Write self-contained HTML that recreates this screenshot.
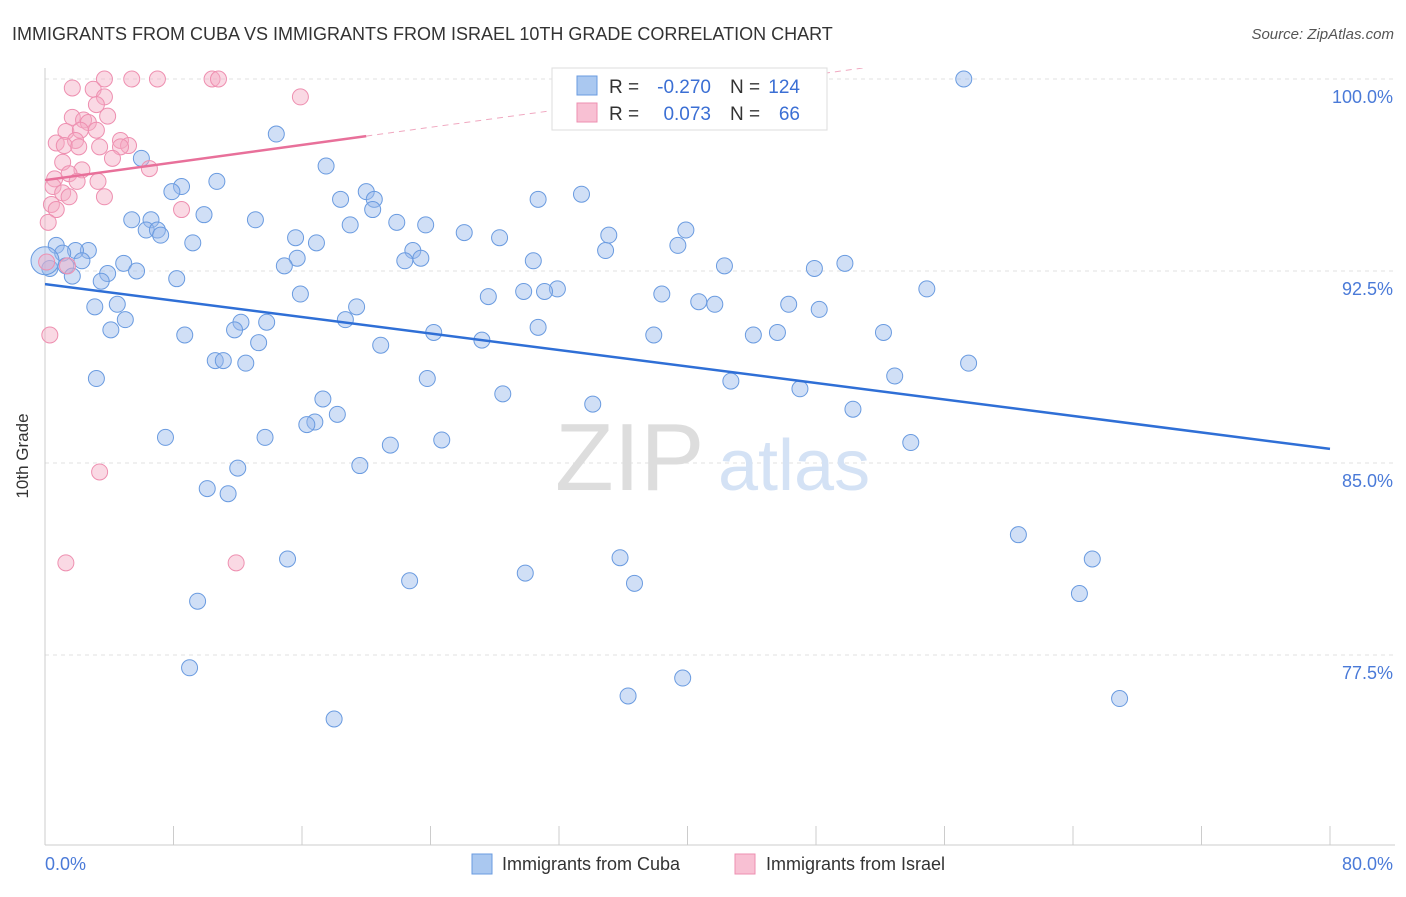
<!DOCTYPE html>
<html><head><meta charset="utf-8"><style>
body{margin:0;background:#fff;font-family:"Liberation Sans",sans-serif;}
svg text{font-family:"Liberation Sans",sans-serif;}
</style></head><body>
<svg id="chart" width="1406" height="892" viewBox="0 0 1406 892">
<defs><clipPath id="plotclip"><rect x="45" y="68" width="1350" height="777"/></clipPath></defs>
<text x="12" y="40" font-size="18" fill="#333">IMMIGRANTS FROM CUBA VS IMMIGRANTS FROM ISRAEL 10TH GRADE CORRELATION CHART</text>
<text x="1394" y="39" font-size="15" fill="#555" font-style="italic" text-anchor="end">Source: ZipAtlas.com</text>
<g id="grid"></g>
<g id="ticks"></g>
<line x1="45" y1="68" x2="45" y2="845" stroke="#ccc"/>
<line x1="45" y1="845" x2="1395" y2="845" stroke="#ccc"/>
<text x="555" y="490" font-size="96" fill="#ddd" font-family="Liberation Serif">ZIP</text>
<text x="718" y="490" font-size="72" fill="#d4e2f5">atlas</text>
<g id="yticks"></g>
<text x="28" y="456" font-size="17" fill="#333" text-anchor="middle" transform="rotate(-90 28 456)">10th Grade</text>
<text x="45" y="870" font-size="18" fill="#4a7ad8">0.0%</text>
<text x="1393" y="870" font-size="18" fill="#4a7ad8" text-anchor="end">80.0%</text>
<g id="pts"></g>
<g id="lines" clip-path="url(#plotclip)"></g>
<g>
<rect x="552" y="68" width="275" height="62" fill="#fff" stroke="#ddd"/>
<rect x="577" y="76" width="20" height="19" fill="#aac8f0" stroke="#6a9be0"/>
<rect x="577" y="103" width="20" height="19" fill="#f8c0d3" stroke="#ee8fb0"/>
<text x="609" y="93" font-size="19" fill="#333">R =</text>
<text x="711" y="93" font-size="19" fill="#3b6fd4" text-anchor="end">-0.270</text>
<text x="730" y="93" font-size="19" fill="#333">N =</text>
<text x="800" y="93" font-size="19" fill="#3b6fd4" text-anchor="end">124</text>
<text x="609" y="120" font-size="19" fill="#333">R =</text>
<text x="711" y="120" font-size="19" fill="#3b6fd4" text-anchor="end">0.073</text>
<text x="730" y="120" font-size="19" fill="#333">N =</text>
<text x="800" y="120" font-size="19" fill="#3b6fd4" text-anchor="end">66</text>
</g>
<g>
<rect x="472" y="854" width="20" height="20" fill="#aac8f0" stroke="#6a9be0"/>
<text x="502" y="870" font-size="18" fill="#333">Immigrants from Cuba</text>
<rect x="735" y="854" width="20" height="20" fill="#f8c0d3" stroke="#ee8fb0"/>
<text x="766" y="870" font-size="18" fill="#333">Immigrants from Israel</text>
</g>
</svg>
<script>
const yTickValues=[100,92.5,85,77.5];
const yTickLabels=["100.0%","92.5%","85.0%","77.5%"];
const xTickValues=[0,8,16,24,32,40,48,56,64,72,80];
const cubaX=[57.2,14.4,6.0,17.5,10.7,8.5,7.9,20.0,18.4,20.5,33.4,30.7,20.4,9.9,5.4,6.6,13.1,21.9,23.7,19.0,6.3,7.0,7.2,26.1,39.9,35.1,15.6,28.3,9.2,16.9,39.4,0.7,34.9,2.7,1.9,22.9,1.1,23.4,15.7,2.3,22.4,30.4,4.9,49.8,1.3,14.9,42.3,0.3,47.9,3.9,5.7,1.7,8.2,3.5,54.9,31.9,29.8,31.1,15.9,38.4,27.6,40.7,41.7,4.5,3.1,46.3,19.4,48.2,5.0,18.7,12.2,13.8,30.7,11.8,4.1,24.2,52.2,45.6,44.1,37.9,8.7,27.2,13.3,20.9,10.6,11.1,12.5,57.5,52.9,3.2,23.8,42.7,47.0,28.5,17.3,34.1,50.3,18.2,16.8,16.3,7.5,13.7,24.7,21.5,53.9,19.6,12.0,10.1,11.4,60.6,65.2,15.1,35.8,29.9,22.7,36.7,64.4,9.5,9.0,39.7,36.3,66.9,18.0,0.0];
const cubaY=[100,97.85,96.9,96.6,96.0,95.8,95.6,95.6,95.3,95.3,95.5,95.3,94.9,94.7,94.5,94.5,94.5,94.4,94.3,94.3,94.1,94.1,93.9,94.0,94.1,93.9,93.8,93.8,93.6,93.6,93.5,93.5,93.3,93.3,93.3,93.3,93.2,93.0,93.0,92.9,92.9,92.9,92.8,92.8,92.7,92.7,92.7,92.6,92.6,92.4,92.5,92.3,92.2,92.1,91.8,91.8,91.7,91.7,91.6,91.6,91.5,91.3,91.2,91.2,91.1,91.2,91.1,91.0,90.6,90.6,90.5,90.5,90.3,90.2,90.2,90.1,90.1,90.1,90.0,90.0,90.0,89.8,89.7,89.6,89.0,89.0,88.9,88.9,88.4,88.3,88.3,88.2,87.9,87.7,87.5,87.3,87.1,86.9,86.6,86.5,86.0,86.0,85.9,85.7,85.8,84.9,84.8,84.0,83.8,82.2,81.25,81.25,81.3,80.7,80.4,80.3,79.9,79.6,77.0,76.6,75.9,75.8,75.0,92.9];
const israelX=[1.7,3.7,5.4,7.0,10.4,10.8,15.9,3.0,3.7,3.2,1.7,3.9,2.4,2.7,1.3,2.2,3.2,4.7,0.7,1.9,1.2,2.1,3.4,5.2,4.7,1.1,4.2,6.5,2.3,1.5,0.6,3.3,2.0,0.5,1.1,3.7,1.5,0.4,0.7,8.5,0.2,0.1,1.4,0.3,3.4,1.3,11.9];
const israelY=[99.65,100,100,100,100,100,99.3,99.6,99.3,99.0,98.5,98.55,98.4,98.3,97.95,98.0,98.0,97.6,97.5,97.6,97.4,97.35,97.35,97.4,97.35,96.75,96.9,96.5,96.45,96.3,96.1,96.0,96.0,95.8,95.55,95.4,95.4,95.1,94.9,94.9,94.4,92.85,92.7,90.0,84.65,81.1,81.1];
const cubaTrend=[91.99,85.55];   // y at x=0 and x=80
const israelTrend=[96.05,97.77];  // y at x=0 and x=20
const NS="http://www.w3.org/2000/svg";
const X=v=>45+v*(1285/80);
const Y=v=>79+(100-v)*25.6;
function mk(t,a,p){const e=document.createElementNS(NS,t);for(const k in a)e.setAttribute(k,a[k]);p.appendChild(e);return e;}
const grid=document.getElementById('grid'),yt=document.getElementById('yticks'),tk=document.getElementById('ticks');
yTickValues.forEach((v,i)=>{
 const l=mk('line',{x1:45,x2:1395,y1:Y(v),y2:Y(v),stroke:'#e2e2e2','stroke-dasharray':'4,4'},grid);
 
 
 const t=mk('text',{x:1393,y:Y(v)+24,'font-size':18,fill:'#4a7ad8','text-anchor':'end'},yt);
 t.textContent=yTickLabels[i];
 
 
});
xTickValues.forEach(v=>{
 const l=mk('line',{x1:X(v),x2:X(v),y1:826,y2:845,stroke:'#ccc'},tk);
 
 
});
const pts=document.getElementById('pts');
cubaX.forEach((x,i)=>{
 const c=mk('circle',{cx:X(x),cy:Y(cubaY[i]),r:i===cubaX.length-1?14:8,fill:'rgba(150,185,235,0.45)',stroke:'#6a9be0','stroke-width':1},pts);
 
 
});
israelX.forEach((x,i)=>{
 const c=mk('circle',{cx:X(x),cy:Y(israelY[i]),r:8,fill:'rgba(245,170,195,0.45)',stroke:'#ee8fb0','stroke-width':1},pts);
 
 
});
const ln=document.getElementById('lines');
const b=mk('line',{x1:X(0),y1:Y(cubaTrend[0]),x2:X(80),y2:Y(cubaTrend[1]),stroke:'#2f6fd6','stroke-width':2.5},ln);


const p=mk('line',{x1:X(0),y1:Y(israelTrend[0]),x2:X(20),y2:Y(israelTrend[1]),stroke:'#e8709a','stroke-width':2.5},ln);


const slope=(israelTrend[1]-israelTrend[0])/20;
const pd=mk('line',{x1:X(20),y1:Y(israelTrend[1]),x2:X(80),y2:Y(israelTrend[0]+slope*80),stroke:'#f0a8c0','stroke-width':1,'stroke-dasharray':'6,5'},ln);


</script>
</body></html>
